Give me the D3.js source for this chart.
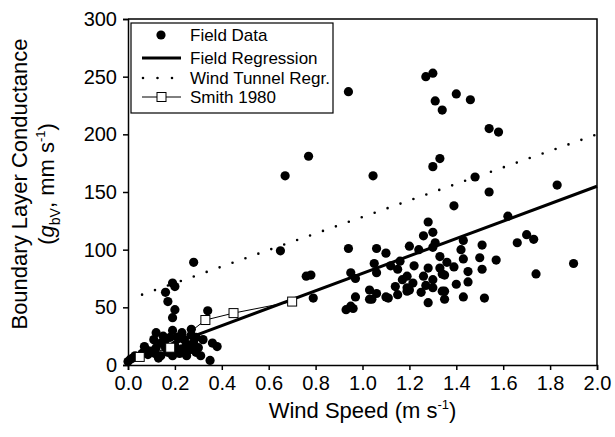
<!DOCTYPE html>
<html lang="en">
<head>
  <meta charset="UTF-8" />
  <script src="https://d3js.org/d3.v7.min.js"></script>
  <title>Boundary Layer Conductance</title>
  <style>
    body { margin: 0; background: #fff; }
    text { font-family: "Liberation Sans", Arial, sans-serif; fill: #000; }
  </style>
</head>
<body>
  <svg width="615" height="437"></svg>
  <script>
    // field measurements (wind speed m/s, conductance mm/s)
    const fieldSpeed = [
      0.00, 0.01, 0.02, 0.03, 0.06, 0.07, 0.085, 0.10, 0.11, 0.115, 0.12, 0.13, 0.14, 0.15, 0.16, 0.17,
      0.18, 0.19, 0.19, 0.20, 0.21, 0.22, 0.23, 0.24, 0.25, 0.26, 0.27, 0.27, 0.28, 0.29, 0.30, 0.32,
      0.12, 0.14, 0.16, 0.18, 0.21, 0.23, 0.25, 0.27, 0.29, 0.31, 0.08,
      0.16, 0.17, 0.19, 0.20, 0.20, 0.19, 0.28, 0.34, 0.36, 0.38, 0.35,
      0.65, 0.67, 0.77, 0.76, 0.78, 0.79, 0.94, 0.94, 0.95, 0.97, 0.97, 0.95, 0.96, 0.93,
      1.03, 1.03, 1.045, 1.05, 1.06, 1.06, 1.06, 1.04, 1.10, 1.10, 1.11, 1.12, 1.14, 1.15, 1.15, 1.16,
      1.17, 1.19, 1.19, 1.19, 1.20, 1.20, 1.215, 1.22, 1.24, 1.25, 1.26, 1.26, 1.27, 1.27, 1.28, 1.28,
      1.28, 1.30, 1.30, 1.30, 1.30, 1.30, 1.30, 1.31, 1.31, 1.33, 1.33, 1.33, 1.34, 1.34, 1.34, 1.35,
      1.35, 1.35, 1.36, 1.39, 1.39, 1.40, 1.40, 1.42, 1.43, 1.43, 1.43, 1.45, 1.45, 1.46, 1.48, 1.50,
      1.51, 1.51, 1.52, 1.54, 1.54, 1.57, 1.58, 1.62, 1.66, 1.70, 1.73, 1.74, 1.83, 1.90
    ];
    const fieldCond = [
      3, 5, 6, 8, 10, 16, 9, 12, 22, 10, 28, 6, 19, 25, 15, 11,
      24, 30, 8, 17, 24, 10, 14, 22, 18, 13, 31, 26, 20, 11, 15, 22,
      15, 8, 22, 14, 12, 28, 8, 16, 24, 8, 13,
      63, 55, 71, 68, 48, 41, 89, 47, 19, 16, 4,
      99, 164, 181, 77, 78, 58, 237, 101, 80, 75, 59, 51, 49, 48,
      65, 57, 164, 88, 80, 101, 62, 57, 97, 59, 58, 86, 68, 61, 83, 90,
      74, 77, 64, 67, 103, 65, 71, 86, 100, 63, 112, 77, 250, 69, 124, 84,
      54, 253, 172, 115, 102, 67, 74, 229, 106, 179, 94, 84, 221, 64, 79, 78,
      64, 57, 89, 138, 85, 235, 70, 100, 108, 92, 59, 81, 72, 230, 163, 93,
      104, 83, 58, 205, 150, 91, 202, 129, 106, 113, 109, 79, 156, 88
    ];

    // regression lines
    const fieldRegX = [0.2, 2.0];
    const fieldRegY = [19, 155];
    const windRegX = [0.06, 2.0];
    const windRegY = [61, 200];

    // Smith 1980
    const smithX = [0.05, 0.18, 0.33, 0.45, 0.70];
    const smithY = [7, 15, 39, 45, 55];

    const xTicks = [0, 0.2, 0.4, 0.6, 0.8, 1.0, 1.2, 1.4, 1.6, 1.8, 2.0];
    const yTicks = [0, 50, 100, 150, 200, 250, 300];

    const svg = d3.select("svg");
    const margin = { top: 19, right: 18, bottom: 72, left: 128 };
    const width = 615 - margin.left - margin.right;
    const height = 437 - margin.top - margin.bottom;

    const x = d3.scaleLinear().domain([0, 2]).range([0, width]);
    const y = d3.scaleLinear().domain([0, 300]).range([height, 0]);

    const chart = svg.append("g")
      .attr("transform", `translate(${margin.left},${margin.top})`);

    // axes
    const xAxis = chart.append("g")
      .attr("transform", `translate(0,${height})`)
      .call(d3.axisBottom(x).tickValues(xTicks).tickFormat(d3.format(".1f")).tickSizeOuter(0).tickSize(5).tickPadding(6));
    const yAxis = chart.append("g")
      .call(d3.axisLeft(y).tickValues(yTicks).tickSizeOuter(0).tickSize(5).tickPadding(6));
    [xAxis, yAxis].forEach(a => {
      a.selectAll("text").style("font-size", "20px");
      a.selectAll("line, path").attr("stroke", "#000").attr("stroke-width", 1.5);
    });

    // frame top + right
    chart.append("path")
      .attr("d", `M0,0H${width}V${height}`)
      .attr("fill", "none").attr("stroke", "#000").attr("stroke-width", 1.5);

    const line = d3.line().x(d => x(d[0])).y(d => y(d[1]));

    // wind tunnel regression (dotted)
    chart.append("path")
      .datum(d3.zip(windRegX, windRegY))
      .attr("d", line)
      .attr("fill", "none").attr("stroke", "#000").attr("stroke-width", 2.6)
      .attr("stroke-linecap", "round").attr("stroke-dasharray", "0 13.7");

    // field regression
    chart.append("path")
      .datum(d3.zip(fieldRegX, fieldRegY))
      .attr("d", line)
      .attr("fill", "none").attr("stroke", "#000").attr("stroke-width", 3);

    // field data
    chart.selectAll("circle.field")
      .data(d3.zip(fieldSpeed, fieldCond))
      .enter().append("circle")
      .attr("class", "field")
      .attr("cx", d => x(d[0]))
      .attr("cy", d => y(d[1]))
      .attr("r", 4.6)
      .attr("fill", "#000");

    // Smith 1980
    const smith = d3.zip(smithX, smithY);
    chart.append("path")
      .datum(smith)
      .attr("d", line)
      .attr("fill", "none").attr("stroke", "#000").attr("stroke-width", 1);
    chart.selectAll("rect.smith")
      .data(smith)
      .enter().append("rect")
      .attr("class", "smith")
      .attr("x", d => x(d[0]) - 4.5)
      .attr("y", d => y(d[1]) - 4.5)
      .attr("width", 9).attr("height", 9)
      .attr("fill", "#fff").attr("stroke", "#000").attr("stroke-width", 1);

    // legend
    const legend = chart.append("g").attr("transform", "translate(3,4)");
    legend.append("rect")
      .attr("width", 202).attr("height", 90)
      .attr("fill", "#fff").attr("stroke", "#000").attr("stroke-width", 1.2);
    const rows = [
      { label: "Field Data", y: 12 },
      { label: "Field Regression", y: 35 },
      { label: "Wind Tunnel Regr.", y: 55 },
      { label: "Smith 1980", y: 74 }
    ];
    rows.forEach(r => {
      legend.append("text")
        .attr("x", 59).attr("y", r.y).attr("dy", "0.35em")
        .style("font-size", "17px").text(r.label);
    });
    legend.append("circle").attr("cx", 30).attr("cy", rows[0].y).attr("r", 4.6).attr("fill", "#000");
    legend.append("line").attr("x1", 11).attr("x2", 50).attr("y1", rows[1].y).attr("y2", rows[1].y)
      .attr("stroke", "#000").attr("stroke-width", 3);
    legend.append("line").attr("x1", 12).attr("x2", 50).attr("y1", rows[2].y).attr("y2", rows[2].y)
      .attr("stroke", "#000").attr("stroke-width", 2.6).attr("stroke-linecap", "round")
      .attr("stroke-dasharray", "0 14.5");
    legend.append("line").attr("x1", 11).attr("x2", 50).attr("y1", rows[3].y).attr("y2", rows[3].y)
      .attr("stroke", "#000").attr("stroke-width", 1);
    legend.append("rect").attr("x", 26).attr("y", rows[3].y - 4.5).attr("width", 9).attr("height", 9)
      .attr("fill", "#fff").attr("stroke", "#000");

    // axis titles
    const xt = svg.append("text")
      .attr("x", margin.left + width / 2).attr("y", 418)
      .attr("text-anchor", "middle").style("font-size", "22px");
    xt.append("tspan").text("Wind Speed (m s");
    xt.append("tspan").attr("dy", -9).style("font-size", "13px").text("-1");
    xt.append("tspan").attr("dy", 9).text(")");

    const yt = svg.append("text")
      .attr("transform", "translate(27,184) rotate(-90)")
      .attr("text-anchor", "middle").style("font-size", "22px")
      .text("Boundary Layer Conductance");

    const yt2 = svg.append("text")
      .attr("transform", "translate(54,184) rotate(-90)")
      .attr("text-anchor", "middle").style("font-size", "22px");
    yt2.append("tspan").text("(");
    yt2.append("tspan").style("font-style", "italic").text("g");
    yt2.append("tspan").attr("dy", 6).style("font-size", "14px").text("bV");
    yt2.append("tspan").attr("dy", -6).text(", mm s");
    yt2.append("tspan").attr("dy", -9).style("font-size", "13px").text("-1");
    yt2.append("tspan").attr("dy", 9).text(")");
  </script>
</body>
</html>
